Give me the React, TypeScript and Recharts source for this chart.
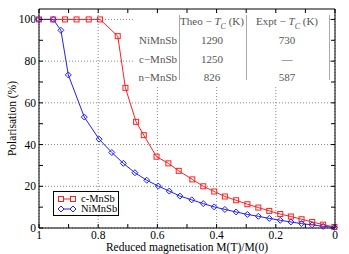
import React from 'react';
import { LineChart, Line, XAxis, YAxis, CartesianGrid, ReferenceArea, Label } from 'recharts';

// reduced magnetisation M(T)/M(0) and polarisation (%)
const cMnSbM = [1.0, 0.952, 0.912, 0.873, 0.832, 0.794, 0.734, 0.708, 0.672, 0.646, 0.603, 0.563, 0.528, 0.482, 0.445, 0.408, 0.372, 0.334, 0.296, 0.259, 0.222, 0.185, 0.149, 0.113, 0.077, 0.04, 0.002];
const cMnSbP = [100, 100, 100, 100, 100, 100, 92, 67.2, 50.9, 44.5, 34.2, 31.0, 27.4, 23.3, 20, 17.5, 15.1, 13.3, 11.4, 9.8, 8.2, 6.7, 5.5, 4.2, 2.9, 1.6, 0.5];

const niMnSbM = [1.0, 0.952, 0.926, 0.901, 0.847, 0.797, 0.754, 0.715, 0.676, 0.636, 0.597, 0.56, 0.524, 0.484, 0.445, 0.408, 0.372, 0.334, 0.296, 0.259, 0.222, 0.185, 0.149, 0.113, 0.077, 0.04, 0.002];
const niMnSbP = [100, 100, 94.8, 73.4, 53.2, 42.6, 36.2, 31.0, 26.5, 22.9, 20.1, 17.7, 15.3, 13.5, 11.7, 10.1, 8.9, 7.7, 6.5, 5.6, 4.6, 3.7, 2.9, 2.1, 1.5, 0.8, 0.3];

const xTicks = [0, 0.1, 0.2, 0.3, 0.4, 0.5, 0.6, 0.7, 0.8, 0.9, 1];
const xMajor = [0, 0.2, 0.4, 0.6, 0.8, 1];
const yTicks = [0, 10, 20, 30, 40, 50, 60, 70, 80, 90, 100];
const yMajor = [0, 20, 40, 60, 80, 100];

// inset table
const tableRows = ['NiMnSb', 'c\u2212MnSb', 'n\u2212MnSb'];
const theoTc = ['1290', '1250', '826'];
const exptTc = ['730', '\u2014', '587'];

const W = 349;
const H = 254;
const M = { top: 9, right: 14, bottom: 0, left: 0 };
const Y_AXIS_W = 39;
const X_AXIS_H = 26;
const PLOT_W = W - M.left - M.right - Y_AXIS_W;
const PLOT_H = H - M.top - M.bottom - X_AXIS_H;
const Y_MAX = 105;

const RED = '#ff1f1f';
const BLUE = '#1f1fff';
const SERIF = "'Liberation Serif', serif";

const cMnSbData = cMnSbM.map((m, i) => ({ m, p: cMnSbP[i] }));
const niMnSbData = niMnSbM.map((m, i) => ({ m, p: niMnSbP[i] }));

const near = (list: number[], v: number) => list.some((t) => Math.abs(t - v) < 1e-6);
const fmtX = (v: number) => (v === 0 || v === 1 ? String(v) : v.toFixed(1));

const XTick = (props: any) => {
  const { x, y, payload } = props;
  const v = payload.value;
  return (
    <g>
      <line x1={x} x2={x} y1={y} y2={y - 4} stroke="#000" />
      <line x1={x} x2={x} y1={y - PLOT_H} y2={y - PLOT_H + 4} stroke="#000" />
      {near(xMajor, v) && (
        <text x={x} y={y + 11} textAnchor="middle" fontSize={11.5} fontFamily={SERIF} fill="#000">
          {fmtX(v)}
        </text>
      )}
    </g>
  );
};

const YTick = (props: any) => {
  const { x, y, payload } = props;
  const v = payload.value;
  return (
    <g>
      <line x1={x} x2={x + 4} y1={y} y2={y} stroke="#000" />
      <line x1={x + PLOT_W} x2={x + PLOT_W - 4} y1={y} y2={y} stroke="#000" />
      {near(yMajor, v) && (
        <text x={x - 3} y={y + 4} textAnchor="end" fontSize={11.5} fontFamily={SERIF} fill="#000">
          {v}
        </text>
      )}
    </g>
  );
};

const SquareDot = (props: any) => {
  const { cx, cy } = props;
  if (cx == null || cy == null) return null;
  return <rect x={cx - 2.5} y={cy - 2.5} width={5} height={5} fill="none" stroke={RED} strokeWidth={1} />;
};

const DiamondDot = (props: any) => {
  const { cx, cy } = props;
  if (cx == null || cy == null) return null;
  const r = 3;
  return (
    <polygon
      points={`${cx},${cy - r} ${cx + r},${cy} ${cx},${cy + r} ${cx - r},${cy}`}
      fill="none"
      stroke={BLUE}
      strokeWidth={1}
    />
  );
};

const LegendBox = () => (
  <div
    style={{
      position: 'absolute',
      left: 53,
      top: 191,
      width: 66,
      height: 25,
      border: '1px solid #000',
      background: '#fff',
      boxSizing: 'border-box',
      fontFamily: SERIF,
      fontSize: 10.5,
    }}
  >
    {[
      { name: 'c-MnSb', color: RED, shape: 'square' },
      { name: 'NiMnSb', color: BLUE, shape: 'diamond' },
    ].map((e, i) => (
      <div key={e.name} style={{ position: 'absolute', left: 4, top: 2 + i * 10, height: 10, display: 'flex', alignItems: 'center' }}>
        <svg width={18} height={10} style={{ display: 'block' }}>
          <line x1={3} x2={15} y1={5} y2={5} stroke={e.color} />
          {e.shape === 'square'
            ? [3, 15].map((cx) => <rect key={cx} x={cx - 2.5} y={2.5} width={5} height={5} fill="#fff" stroke={e.color} />)
            : [3, 15].map((cx) => (
                <polygon key={cx} points={`${cx},2 ${cx + 3},5 ${cx},8 ${cx - 3},5`} fill="#fff" stroke={e.color} />
              ))}
        </svg>
        <span style={{ marginLeft: 5, lineHeight: '10px', color: '#000' }}>{e.name}</span>
      </div>
    ))}
  </div>
);

const cell = (left: number, top: number, align: 'center' | 'right'): React.CSSProperties => ({
  position: 'absolute',
  left,
  top,
  transform: align === 'center' ? 'translate(-50%, -50%)' : 'translate(-100%, -50%)',
  whiteSpace: 'nowrap',
  lineHeight: '12px',
});

const TcHead = ({ label }: { label: string }) => (
  <span>
    {label} {'\u2212'} <i>T</i>
    <sub style={{ fontSize: 8, fontStyle: 'italic' }}>C</sub> (K)
  </span>
);

const InsetTable = () => {
  const rowY = [26, 44.5, 63];
  return (
    <div
      style={{
        position: 'absolute',
        left: 133,
        top: 14,
        width: 197,
        height: 72,
        background: '#fff',
        fontFamily: SERIF,
        fontSize: 11,
        color: '#555',
      }}
    >
      <div style={cell(79, 10, 'center')}>
        <TcHead label="Theo" />
      </div>
      <div style={cell(154, 10, 'center')}>
        <TcHead label="Expt" />
      </div>
      {tableRows.map((r, i) => (
        <React.Fragment key={r}>
          <div style={cell(44, rowY[i], 'right')}>{r}</div>
          <div style={cell(79, rowY[i], 'center')}>{theoTc[i]}</div>
          <div style={cell(154, rowY[i], 'center')}>{exptTc[i]}</div>
        </React.Fragment>
      ))}
      {[46, 113, 196].map((x) => (
        <div key={x} style={{ position: 'absolute', left: x, top: 1, width: 1, height: 65, background: '#aaa' }} />
      ))}
    </div>
  );
};

const App: React.FC = () => {
  return (
    <div style={{ position: 'absolute', left: 0, top: 0, width: W, height: H, background: '#fff' }}>
      <LineChart width={W} height={H} margin={M}>
        <CartesianGrid
          stroke="#888"
          strokeDasharray="1 2"
          verticalCoordinatesGenerator={({ offset }: any) => xMajor.map((v) => offset.left + offset.width * (1 - v))}
          horizontalCoordinatesGenerator={({ offset }: any) =>
            yMajor.map((v) => offset.top + offset.height * (1 - v / Y_MAX))
          }
        />
        <XAxis
          dataKey="m"
          type="number"
          domain={[0, 1]}
          reversed
          ticks={xTicks}
          interval={0}
          height={X_AXIS_H}
          axisLine={false}
          tickLine={false}
          tickSize={0}
          tickMargin={0}
          tick={<XTick />}
          allowDuplicatedCategory={false}
        >
          <Label
            content={({ viewBox }: any) => (
              <text
                x={viewBox.x + viewBox.width / 2}
                y={viewBox.y + 23}
                textAnchor="middle"
                fontSize={11.5}
                fontFamily={SERIF}
                fill="#000"
              >
                Reduced magnetisation M(T)/M(0)
              </text>
            )}
          />
        </XAxis>
        <YAxis
          type="number"
          domain={[0, Y_MAX]}
          ticks={yTicks}
          interval={0}
          width={Y_AXIS_W}
          axisLine={false}
          tickLine={false}
          tickSize={0}
          tickMargin={0}
          tick={<YTick />}
        >
          <Label
            content={({ viewBox }: any) => {
              const cx = 12;
              const cy = viewBox.y + viewBox.height / 2;
              return (
                <text
                  x={cx}
                  y={cy}
                  transform={`rotate(-90 ${cx} ${cy})`}
                  textAnchor="middle"
                  dominantBaseline="central"
                  fontSize={11.5}
                  fontFamily={SERIF}
                  fill="#000"
                >
                  Polarisation (%)
                </text>
              );
            }}
          />
        </YAxis>
        <ReferenceArea x1={1} x2={0} y1={0} y2={Y_MAX} fill="none" stroke="#000" strokeWidth={1} />
        <Line
          data={cMnSbData}
          dataKey="p"
          name="c-MnSb"
          stroke={RED}
          strokeWidth={1}
          dot={<SquareDot />}
          activeDot={false}
          isAnimationActive={false}
        />
        <Line
          data={niMnSbData}
          dataKey="p"
          name="NiMnSb"
          stroke={BLUE}
          strokeWidth={1}
          dot={<DiamondDot />}
          activeDot={false}
          isAnimationActive={false}
        />
      </LineChart>
      <InsetTable />
      <LegendBox />
    </div>
  );
};

export default App;
